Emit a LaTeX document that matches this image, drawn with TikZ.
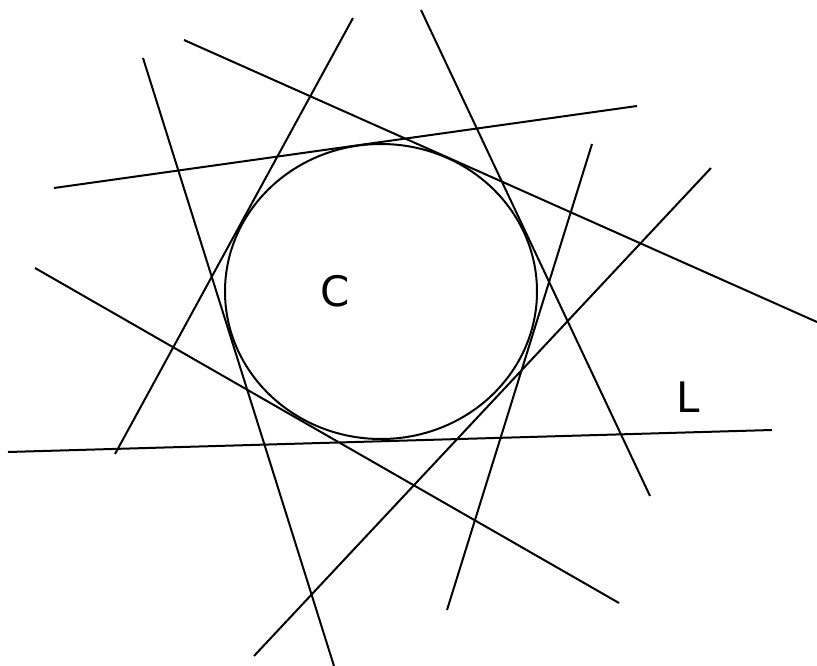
\documentclass[tikz,border=0pt]{standalone}
\usepackage{fontspec}
\setmainfont{DejaVu Sans}
\usetikzlibrary{math}

\begin{document}
\begin{tikzpicture}[x=1pt,y=-1pt,line width=2pt]
\tikzmath{
\cx=381;
\cy=291.5;
\rx=156;
\ry=147.5;
}
\useasboundingbox (0,0) rectangle (817,666);

\draw (\cx,\cy) ellipse ({\rx} and {\ry});

\draw (184,40) -- (817,322);
\draw (54,188) -- (637,106);
\draw (143,58) -- (334,666);
\draw (353,18) -- (115,454);
\draw (421,10) -- (650,496);
\draw (592,144) -- (447,610);
\draw (711,168) -- (254,656);
\draw (35,268) -- (619,603);
\draw (8,452) -- (772,430);

\node[font=\fontsize{42}{42}\selectfont] (labC) at (335,291) {C};
\node[font=\fontsize{42}{42}\selectfont] (labL) at (688.5,397) {L};

\end{tikzpicture}
\end{document}
